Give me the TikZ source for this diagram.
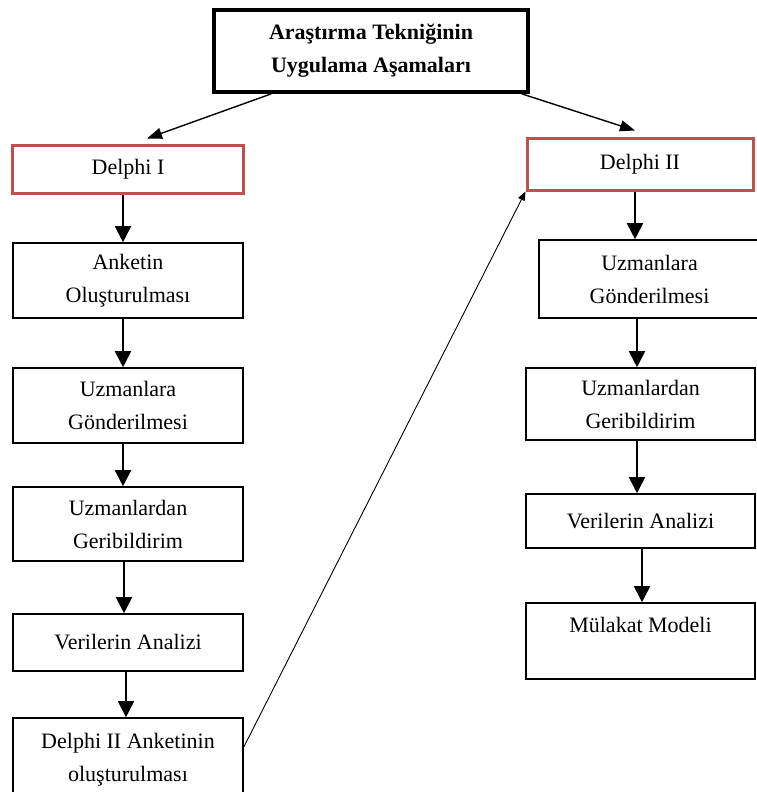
\documentclass[tikz,border=0pt]{standalone}
\usepackage{fontspec}
\setmainfont{Liberation Serif}
\usetikzlibrary{arrows.meta}
\definecolor{boxred}{HTML}{C0504D}
\begin{document}
\begin{tikzpicture}[x=1pt,y=-1pt,
  every node/.style={font=\fontsize{22}{33}\selectfont, align=center, inner sep=0pt},
  plain/.style={draw=black, line width=1.6pt, rectangle},
  redbox/.style={draw=boxred, line width=3pt, rectangle},
  titlebox/.style={draw=black, line width=3.8pt, rectangle, font=\bfseries\fontsize{22}{33}\selectfont},
  arr/.style={line width=1.8pt, -{Triangle[width=16pt,length=16pt]}},
  toparr/.style={line width=1.4pt, -{Triangle[width=11pt,length=15pt]}},
  thinarr/.style={line width=0.9pt, -{Triangle[width=7pt,length=9pt]}}]
\useasboundingbox (0,0) rectangle (757,792);
\fill[white] (0,0) rectangle (757,792);

\node[titlebox, minimum width=314pt, minimum height=82pt] (top) at (371,51) {Araştırma Tekniğinin\\Uygulama Aşamaları};

\node[redbox, minimum width=231pt, minimum height=48pt] (d1) at (128,169) {Delphi I};
\node[redbox, minimum width=226pt, minimum height=52pt] (d2) at (640,164) {Delphi II};

\node[plain, minimum width=230pt, minimum height=75pt] (l1) at (128,280.5) {Anketin\\Oluşturulması};
\node[plain, minimum width=230pt, minimum height=75pt] (l2) at (128,405.5) {Uzmanlara\\Gönderilmesi};
\node[plain, minimum width=230pt, minimum height=74pt] (l3) at (128,524) {Uzmanlardan\\Geribildirim};
\node[plain, minimum width=230pt, minimum height=57pt] (l4) at (128,642.5) {Verilerin Analizi};
\node[plain, minimum width=230pt, minimum height=84pt] (l5) at (128,760) {Delphi II Anketinin\\oluşturulması};

\node[plain, minimum width=221pt, minimum height=78pt] (r1) at (649.5,279) {Uzmanlara\\Gönderilmesi};
\node[plain, minimum width=229pt, minimum height=72pt] (r2) at (640.5,404) {Uzmanlardan\\Geribildirim};
\node[plain, minimum width=229pt, minimum height=54pt] (r3) at (640.5,521) {Verilerin Analizi};
\node[plain, minimum width=229pt, minimum height=76pt] (r4) at (640.5,641) {Mülakat Modeli\\~};

\draw[toparr] ([xshift=59pt]top.south west) -- ([xshift=19pt,yshift=5pt]d1.north);
\draw[toparr] ([xshift=-8pt]top.south east) -- ([xshift=-5pt,yshift=6pt]d2.north);

\draw[arr] ([xshift=-5pt]d1.south) -- ([xshift=-5pt]l1.north);
\draw[arr] ([xshift=-5pt]l1.south) -- ([xshift=-5pt]l2.north);
\draw[arr] ([xshift=-5pt]l2.south) -- ([xshift=-5pt]l3.north);
\draw[arr] ([xshift=-4pt]l3.south) -- ([xshift=-4pt]l4.north);
\draw[arr] ([xshift=-2pt]l4.south) -- ([xshift=-2pt]l5.north);

\draw[arr] ([xshift=-5pt]d2.south) -- ([xshift=-14.5pt]r1.north);
\draw[arr] ([xshift=-3.5pt]r1.south -| r2.north) -- ([xshift=-3.5pt]r2.north);
\draw[arr] ([xshift=-3.5pt]r2.south) -- ([xshift=-3.5pt]r3.north);
\draw[arr] ([xshift=1.5pt]r3.south) -- ([xshift=1.5pt]r4.north);

\draw[thinarr] ([yshift=13pt]l5.east) -- (d2.south west);
\end{tikzpicture}
\end{document}
